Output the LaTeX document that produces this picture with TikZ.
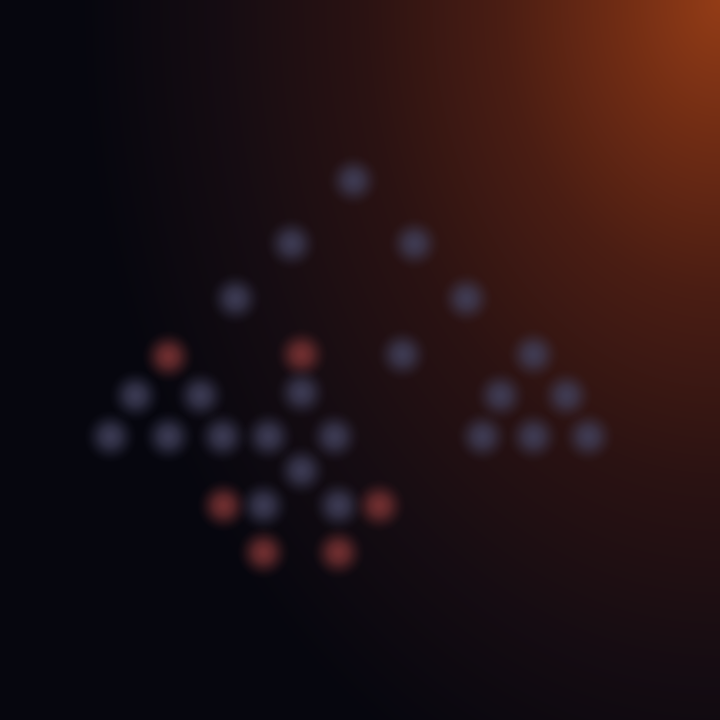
\documentclass[tikz,border=0pt]{standalone}
\usetikzlibrary{fadings}
\definecolor{bgc}{HTML}{06060E}
\definecolor{g0}{HTML}{933C16}
\definecolor{g1}{HTML}{702C14}
\definecolor{g2}{HTML}{4A1D13}
\definecolor{g3}{HTML}{2A1212}
\definecolor{g4}{HTML}{150C12}
\definecolor{greydot}{HTML}{42415C}
\definecolor{reddot}{HTML}{783233}
\pgfdeclareradialshading{glow}{\pgfpointorigin}{color(0bp)=(g0); color(4bp)=(g1); color(8.5bp)=(g2); color(14bp)=(g3); color(19.5bp)=(g4); color(25bp)=(bgc); color(50bp)=(bgc)}
\pgfdeclareradialshading{softsh}{\pgfpointorigin}{color(0bp)=(white); color(3bp)=(white!95!black); color(8bp)=(white!75!black); color(13bp)=(white!40!black); color(18bp)=(white!12!black); color(22bp)=(black); color(50bp)=(black)}
\pgfdeclarefading{soft}{\pgfuseshading{softsh}}
\tikzset{
  dotbase/.style={circle, inner sep=0pt, minimum size=60pt, path fading=soft, draw=none},
  gdot/.style={dotbase, fill=greydot, fill opacity=0.86},
  rdot/.style={dotbase, fill=reddot, fill opacity=0.9}
}
\begin{document}
\begin{tikzpicture}[x=1pt,y=-1pt]
\useasboundingbox (0,0) rectangle (720,720);
\fill[bgc] (0,0) rectangle (720,720);
\begin{scope}
\clip (0,0) rectangle (720,720);
\shade[shading=glow] (720,0) ellipse (640 and 860);
\end{scope}
% top chain
\node[gdot] (t0) at (353,180) {};
\node[gdot] (t1) at (291,243) {};
\node[gdot] (t2) at (414,243) {};
\node[gdot] (t3) at (235,298) {};
\node[gdot] (t4) at (466,298) {};
% left triangle
\node[rdot] (l0) at (168,356) {};
\node[gdot] (l1) at (135,395) {};
\node[gdot] (l2) at (200,395) {};
\node[gdot] (l3) at (110,436) {};
\node[gdot] (l4) at (168,436) {};
\node[gdot] (l5) at (222,436) {};
% middle
\node[rdot] (m0) at (301,354) {};
\node[gdot] (m1) at (301,392) {};
\node[gdot] (m2) at (268,436) {};
\node[gdot] (m3) at (334,436) {};
\node[gdot] (m4) at (301,470) {};
\node[rdot] (m5) at (223,505) {};
\node[gdot] (m6) at (263,505) {};
\node[gdot] (m7) at (338,505) {};
\node[rdot] (m8) at (379,505) {};
\node[rdot] (m9) at (263,552) {};
\node[rdot] (m10) at (338,552) {};
% right
\node[gdot] (r0) at (402,354) {};
\node[gdot] (s0) at (533,354) {};
\node[gdot] (s1) at (500,395) {};
\node[gdot] (s2) at (566,395) {};
\node[gdot] (s3) at (482,436) {};
\node[gdot] (s4) at (533,436) {};
\node[gdot] (s5) at (588,436) {};
\end{tikzpicture}
\end{document}
